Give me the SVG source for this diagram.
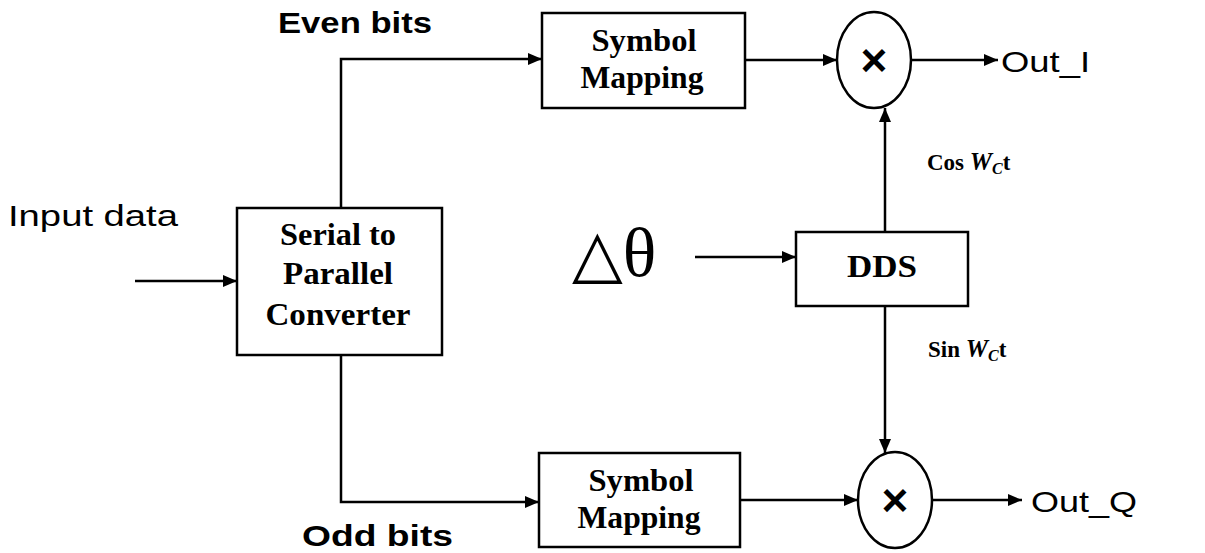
<svg xmlns="http://www.w3.org/2000/svg" width="1205" height="553" viewBox="0 0 1205 553">
  <style>
    .box { fill: #fff; stroke: #000; stroke-width: 2.5; }
    .mix { fill: #fff; stroke: #000; stroke-width: 2.5; }
    .wire { fill: none; stroke: #000; stroke-width: 2.5; marker-end: url(#arrow); }
    .blk { font-family: "Liberation Serif", "Times New Roman", serif; font-weight: bold; font-size: 32px; fill: #000; text-anchor: middle; }
    .lbl { font-family: "Liberation Sans", Arial, sans-serif; font-size: 30px; fill: #000; }
    .sig { font-family: "Liberation Serif", "Times New Roman", serif; font-weight: bold; font-size: 23px; fill: #000; }
    .times { font-family: "Liberation Sans", Arial, sans-serif; font-weight: bold; font-size: 46px; fill: #000; text-anchor: middle; }
  </style>
  <defs>
    <marker id="arrow" markerUnits="userSpaceOnUse" markerWidth="14" markerHeight="12" refX="14" refY="6" orient="auto">
      <path d="M0,0 L14,6 L0,12 z" fill="#000"/>
    </marker>
  </defs>
  <rect width="1205" height="553" fill="#fff"/>

  <!-- connectors -->
  <g id="connectors">
    <path class="wire" d="M135 281 H237"/>
    <path class="wire" d="M341 208 V59 H542"/>
    <path class="wire" d="M341 355 V502 H539"/>
    <path class="wire" d="M745 60 H837"/>
    <path class="wire" d="M912 60 H998"/>
    <path class="wire" d="M885 232 V108"/>
    <path class="wire" d="M885 306 V453"/>
    <path class="wire" d="M740 500 H858"/>
    <path class="wire" d="M932 500 H1022"/>
    <path class="wire" d="M695 257 H796"/>
  </g>

  <!-- free labels -->
  <g id="labels">
    <text class="lbl" x="278" y="33" font-weight="bold" textLength="154" lengthAdjust="spacingAndGlyphs">Even bits</text>
    <text class="lbl" x="8" y="226" textLength="170" lengthAdjust="spacingAndGlyphs">Input data</text>
    <text class="lbl" x="302" y="546" font-size="28" font-weight="bold" textLength="151" lengthAdjust="spacingAndGlyphs">Odd bits</text>
    <text class="lbl" x="1001" y="72" textLength="89" lengthAdjust="spacingAndGlyphs">Out_I</text>
    <text class="lbl" x="1031" y="512" textLength="106" lengthAdjust="spacingAndGlyphs">Out_Q</text>
    <text class="sig" x="927" y="170">Cos <tspan font-style="italic" font-size="25">W</tspan><tspan font-style="italic" font-size="16" dy="4">C</tspan><tspan dy="-4">t</tspan></text>
    <text class="sig" x="928" y="357">Sin <tspan font-style="italic" font-size="25">W</tspan><tspan font-style="italic" font-size="16" dy="4">C</tspan><tspan dy="-4">t</tspan></text>
    <text x="572" y="276" fill="#000"><tspan font-family="DejaVu Sans, sans-serif" font-size="66">△</tspan><tspan font-family="Liberation Serif, serif" font-size="70">θ</tspan></text>
  </g>

  <g id="serial-to-parallel">
    <rect class="box" x="237" y="208" width="205" height="147"/>
    <text class="blk" x="338" y="245" textLength="116" lengthAdjust="spacingAndGlyphs">Serial to</text>
    <text class="blk" x="338" y="284" textLength="110" lengthAdjust="spacingAndGlyphs">Parallel</text>
    <text class="blk" x="338" y="325" textLength="145" lengthAdjust="spacingAndGlyphs">Converter</text>
  </g>

  <g id="symbol-mapping-i">
    <rect class="box" x="542" y="13" width="203" height="95"/>
    <text class="blk" x="644" y="51" textLength="105" lengthAdjust="spacingAndGlyphs">Symbol</text>
    <text class="blk" x="642" y="88" textLength="123" lengthAdjust="spacingAndGlyphs">Mapping</text>
  </g>

  <g id="symbol-mapping-q">
    <rect class="box" x="539" y="453" width="201" height="94"/>
    <text class="blk" x="641" y="491" textLength="105" lengthAdjust="spacingAndGlyphs">Symbol</text>
    <text class="blk" x="639" y="528" textLength="123" lengthAdjust="spacingAndGlyphs">Mapping</text>
  </g>

  <g id="dds">
    <rect class="box" x="796" y="232" width="172" height="74"/>
    <text class="blk" x="882" y="277" font-size="34" textLength="70" lengthAdjust="spacingAndGlyphs">DDS</text>
  </g>

  <g id="mixer-i">
    <ellipse class="mix" cx="874" cy="60" rx="37" ry="48"/>
    <text class="times" x="874" y="76">×</text>
  </g>

  <g id="mixer-q">
    <ellipse class="mix" cx="895" cy="500" rx="37" ry="48"/>
    <text class="times" x="895" y="516">×</text>
  </g>
</svg>
